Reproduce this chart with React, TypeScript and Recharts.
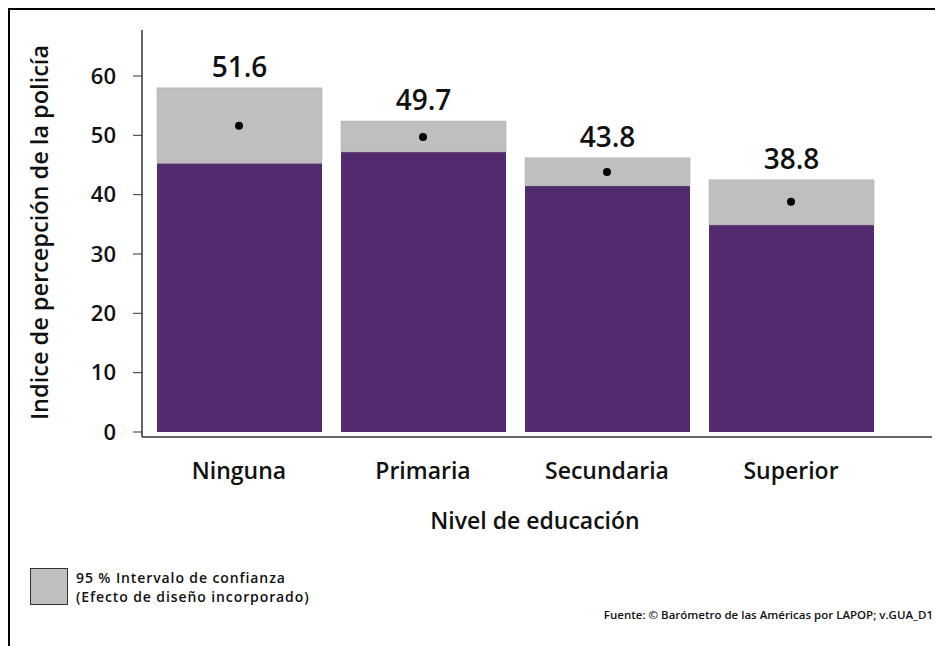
import React from "react";
import {
  ComposedChart,
  Bar,
  Line,
  XAxis,
  YAxis,
  LabelList,
} from "recharts";

const categories = ["Ninguna", "Primaria", "Secundaria", "Superior"];
const means = [51.6, 49.7, 43.8, 38.8];
const lowerCI = [45.3, 47.2, 41.5, 34.9];
const upperCI = [58.0, 52.4, 46.2, 42.5];
const yTicks = [0, 10, 20, 30, 40, 50, 60];
const legendLines = ["95 % Intervalo de confianza", "(Efecto de diseño incorporado)"];

const PURPLE = "#522a6e";
const GRAY = "#bfbfbf";
const FONT = "'Open Sans', sans-serif";

const data = categories.map((name, i) => ({
  name,
  mean: means[i],
  lower: lowerCI[i],
  band: +(upperCI[i] - lowerCI[i]).toFixed(1),
}));

const App = () => {
  return (
    <div
      style={{
        position: "absolute",
        left: 0,
        top: 0,
        width: 935,
        height: 646,
        background: "#fff",
        fontFamily: FONT,
        overflow: "hidden",
      }}
    >
      <div
        style={{
          position: "absolute",
          left: 8,
          top: 8,
          width: 940,
          height: 650,
          borderTop: "2px solid #000",
          borderLeft: "2px solid #000",
        }}
      />
      <ComposedChart
        width={935}
        height={646}
        data={data}
        margin={{ top: 30, right: 3, left: 0, bottom: 109 }}
        style={{ position: "absolute", left: 0, top: 0, fontFamily: FONT }}
      >
        <XAxis
          dataKey="name"
          padding={{ left: 5, right: 49 }}
          tickLine={false}
          tickMargin={20}
          height={100}
          axisLine={{ stroke: "#333", strokeWidth: 1.5 }}
          tick={{ fill: "#111", fontSize: 23, fontWeight: 600 }}
          label={{
            content: (props: any) => {
              const vb = props.viewBox || {};
              return (
                <text
                  x={vb.x + vb.width / 2 - 2}
                  y={529}
                  textAnchor="middle"
                  fontSize={23}
                  fontWeight={600}
                  fill="#111"
                  fontFamily={FONT}
                >
                  Nivel de educación
                </text>
              );
            },
          }}
        />
        <YAxis
          width={142}
          domain={[0, 67.75]}
          ticks={yTicks}
          padding={{ top: 0, bottom: 5 }}
          tickSize={9}
          tickMargin={17}
          axisLine={{ stroke: "#333", strokeWidth: 1.5 }}
          tickLine={{ stroke: "#333" }}
          tick={{ fill: "#111", fontSize: 22, fontWeight: 600 }}
          label={{
            content: (props: any) => {
              const vb = props.viewBox || {};
              const cy = vb.y + vb.height / 2 - 1;
              return (
                <text
                  x={48}
                  y={cy}
                  transform={`rotate(-90 48 ${cy})`}
                  textAnchor="middle"
                  fontSize={23.5}
                  fontWeight={600}
                  fill="#111"
                  fontFamily={FONT}
                >
                  Indice de percepción de la policía
                </text>
              );
            },
          }}
        />
        <Bar
          dataKey="lower"
          stackId="ci"
          fill={PURPLE}
          barSize={165}
          isAnimationActive={false}
        />
        <Bar
          dataKey="band"
          stackId="ci"
          fill={GRAY}
          stroke="#aaaaaa"
          strokeWidth={0.5}
          barSize={165}
          isAnimationActive={false}
        >
          <LabelList
            dataKey="mean"
            position="top"
            offset={11}
            formatter={(v: any) => Number(v).toFixed(1)}
            style={{ fontSize: 28, fontWeight: 600, fill: "#111", fontFamily: FONT }}
          />
        </Bar>
        <Line
          dataKey="mean"
          stroke="none"
          dot={{ r: 4, fill: "#000", stroke: "none" }}
          activeDot={false}
          isAnimationActive={false}
        />
      </ComposedChart>
      <div
        style={{
          position: "absolute",
          left: 30,
          top: 568,
          width: 36,
          height: 35,
          background: GRAY,
          border: "1.5px solid #333",
        }}
      />
      {legendLines.map((line, i) => (
        <div
          key={line}
          style={{
            position: "absolute",
            left: 76,
            top: 569 + i * 19,
            fontSize: 14,
            lineHeight: "17px",
            letterSpacing: 0.9,
            fontWeight: 600,
            color: "#111",
            whiteSpace: "nowrap",
          }}
        >
          {line}
        </div>
      ))}
      <div
        style={{
          position: "absolute",
          right: 2,
          top: 607,
          fontSize: 11.5,
          fontWeight: 600,
          color: "#111",
          whiteSpace: "nowrap",
        }}
      >
        Fuente: © Barómetro de las Américas por LAPOP; v.GUA_D1
      </div>
    </div>
  );
};

export default App;
